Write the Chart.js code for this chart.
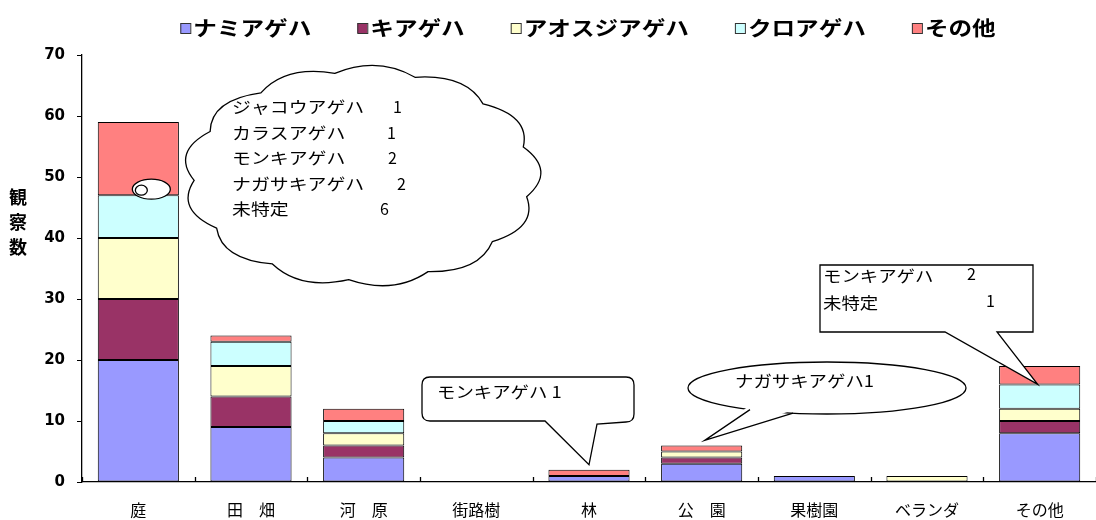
<!DOCTYPE html>
<html lang="ja">
<head>
  <meta charset="UTF-8" />
  <title>場所別 アゲハ観察数</title>
  <script src="https://cdn.jsdelivr.net/npm/chart.js"></script>
  <style>
    body {
      margin: 0;
      background-color: #ffffff;
    }
    #chart-container {
      width: 1096px;
      height: 520px;
    }
  </style>
</head>
<body>

  <div id="chart-container">
    <canvas id="swallowtailChart"></canvas>
  </div>

  <script>
    // 観察場所
    const places = ['庭', '田　畑', '河　原', '街路樹', '林', '公　園', '果樹園', 'ベランダ', 'その他'];

    // 種類ごとの観察数
    const namiageha   = [20, 9, 4, 0, 1, 3, 1, 0, 8];
    const kiageha     = [10, 5, 2, 0, 0, 1, 0, 0, 2];
    const aosujiageha = [10, 5, 2, 0, 0, 1, 0, 1, 2];
    const kuroageha   = [ 7, 4, 2, 0, 0, 0, 0, 0, 4];
    const sonota      = [12, 1, 2, 0, 1, 1, 0, 0, 3];

    const yTicks = [0, 10, 20, 30, 40, 50, 60, 70];

    // 「その他」の内訳
    const niwaNotes   = [['ジャコウアゲハ', '1'], ['カラスアゲハ', '1'], ['モンキアゲハ', '2'], ['ナガサキアゲハ', '2'], ['未特定', '6']];
    const hayashiNote = 'モンキアゲハ 1';
    const kouenNote   = 'ナガサキアゲハ1';
    const otherNotes  = [['モンキアゲハ', '2'], ['未特定', '1']];

    const JP = '"Noto Sans CJK JP", sans-serif';

    // 横に少し伸ばして文字を書く
    function stretchText(ctx, str, x, y, sx) {
      ctx.save();
      ctx.translate(x, y);
      ctx.scale(sx, 1);
      ctx.fillText(str, 0, 0);
      ctx.restore();
    }

    function cloudPath(ctx, cx, cy, rx, ry, n, bulge) {
      ctx.beginPath();
      for (let k = 0; k <= n; k++) {
        const a = (k / n) * Math.PI * 2 + 0.2;
        const px = cx + rx * Math.cos(a), py = cy + ry * Math.sin(a);
        if (k === 0) { ctx.moveTo(px, py); continue; }
        const m = a - Math.PI / n;
        const qx = cx + rx * bulge * Math.cos(m), qy = cy + ry * bulge * Math.sin(m);
        ctx.quadraticCurveTo(qx, qy, px, py);
      }
      ctx.closePath();
    }

    // 凡例・軸タイトル・吹き出し
    const notesPlugin = {
      id: 'notes',
      afterDatasetsDraw(chart) {
        const ctx = chart.ctx;
        const x = chart.scales.x, y = chart.scales.y;
        ctx.save();
        ctx.lineWidth = 1.3;
        ctx.strokeStyle = '#000';
        ctx.fillStyle = '#fff';

        // x軸の目盛り（内向き）
        ctx.beginPath();
        for (let i = 0; i <= places.length; i++) {
          const px = Math.round(x.getPixelForValue(i - 0.5)) + 0.5;
          ctx.moveTo(px, y.bottom);
          ctx.lineTo(px, y.bottom - 5);
        }
        ctx.stroke();

        // 庭：雲形の吹き出し
        const tx = x.getPixelForValue(0) + 3, ty = y.getPixelForValue(48);
        cloudPath(ctx, 362, 176, 168, 104, 13, 1.16);
        ctx.fill();
        ctx.stroke();
        ctx.beginPath();
        ctx.ellipse(tx + 10, ty, 19, 10, 0, 0, Math.PI * 2);
        ctx.fill();
        ctx.stroke();
        ctx.beginPath();
        ctx.ellipse(tx, ty + 1, 6, 5, 0, 0, Math.PI * 2);
        ctx.fill();
        ctx.stroke();

        ctx.fillStyle = '#000';
        ctx.font = '16px ' + JP;
        ctx.textBaseline = 'middle';
        const numX = [393, 387, 388, 397, 380];
        niwaNotes.forEach((n, i) => {
          const ly = 107 + i * 25.5;
          stretchText(ctx, n[0], 232, ly, 1.18);
          ctx.fillText(n[1], numX[i], ly);
        });

        // 林：角丸の吹き出し
        const hx = x.getPixelForValue(4), hy = y.getPixelForValue(sonota[4] + namiageha[4]) - 5;
        ctx.fillStyle = '#fff';
        ctx.beginPath();
        ctx.moveTo(430, 377);
        ctx.lineTo(626, 377);
        ctx.quadraticCurveTo(634, 377, 634, 385);
        ctx.lineTo(634, 414);
        ctx.quadraticCurveTo(634, 422, 626, 422);
        ctx.lineTo(597, 424);
        ctx.lineTo(hx, hy);
        ctx.lineTo(545, 421);
        ctx.lineTo(430, 421);
        ctx.quadraticCurveTo(422, 421, 422, 413);
        ctx.lineTo(422, 385);
        ctx.quadraticCurveTo(422, 377, 430, 377);
        ctx.closePath();
        ctx.fill();
        ctx.stroke();
        ctx.fillStyle = '#000';
        stretchText(ctx, hayashiNote, 437, 392, 1.15);

        // 公園：楕円の吹き出し
        const kx = x.getPixelForValue(5) + 3, ky = y.getPixelForValue(6) - 5;
        ctx.fillStyle = '#fff';
        ctx.beginPath();
        ctx.ellipse(827, 388, 139, 26, 0, 0, Math.PI * 2);
        ctx.fill();
        ctx.stroke();
        ctx.beginPath();
        ctx.moveTo(750, 405);
        ctx.lineTo(kx, ky);
        ctx.lineTo(793, 410);
        ctx.closePath();
        ctx.fill();
        ctx.beginPath();
        ctx.moveTo(750, 409.6);
        ctx.lineTo(kx, ky);
        ctx.lineTo(793, 413.2);
        ctx.stroke();
        ctx.fillStyle = '#000';
        stretchText(ctx, kouenNote, 735, 381, 1.15);

        // その他：四角の吹き出し
        const ox = x.getPixelForValue(8) - 2, oy = y.getPixelForValue(16);
        ctx.fillStyle = '#fff';
        ctx.beginPath();
        ctx.moveTo(820, 265);
        ctx.lineTo(1033, 265);
        ctx.lineTo(1033, 332);
        ctx.lineTo(997, 332);
        ctx.lineTo(ox, oy);
        ctx.lineTo(945, 332);
        ctx.lineTo(820, 332);
        ctx.closePath();
        ctx.fill();
        ctx.stroke();
        ctx.fillStyle = '#000';
        stretchText(ctx, otherNotes[0][0], 823, 276, 1.15);
        ctx.fillText(otherNotes[0][1], 967, 274);
        stretchText(ctx, otherNotes[1][0], 823, 303, 1.15);
        ctx.fillText(otherNotes[1][1], 986, 301);

        ctx.restore();
      },
      afterDraw(chart) {
        const ctx = chart.ctx;
        ctx.save();

        // 凡例
        ctx.font = 'bold 20px ' + JP;
        ctx.textBaseline = 'middle';
        const sx = 1.18, gap = 46;
        const sets = chart.data.datasets;
        const widths = sets.map(d => ctx.measureText(d.label).width * sx);
        const total = widths.reduce((s, w) => s + w + 13, 0) + gap * (sets.length - 1);
        let lx = 588 - total / 2;
        sets.forEach((d, i) => {
          ctx.fillStyle = d.backgroundColor;
          ctx.fillRect(lx, 23, 10, 10);
          ctx.strokeStyle = '#333';
          ctx.lineWidth = 1;
          ctx.strokeRect(lx + 0.5, 23.5, 10, 10);
          ctx.fillStyle = '#000';
          stretchText(ctx, d.label, lx + 13, 28, sx);
          lx += 13 + widths[i] + gap;
        });

        // 縦軸タイトル
        ctx.font = 'bold 18px ' + JP;
        ctx.textAlign = 'center';
        ['観', '察', '数'].forEach((c, i) => ctx.fillText(c, 18, 197 + i * 25));
        ctx.restore();
      }
    };

    const ctx = document.getElementById('swallowtailChart').getContext('2d');
    const swallowtailChart = new Chart(ctx, {
      type: 'bar',
      data: {
        labels: places,
        datasets: [
          { label: 'ナミアゲハ',     data: namiageha,   backgroundColor: '#9999ff' },
          { label: 'キアゲハ',       data: kiageha,     backgroundColor: '#993366' },
          { label: 'アオスジアゲハ', data: aosujiageha, backgroundColor: '#ffffcc' },
          { label: 'クロアゲハ',     data: kuroageha,   backgroundColor: '#ccffff' },
          { label: 'その他',         data: sonota,      backgroundColor: '#ff8080' }
        ].map(d => Object.assign(d, {
          borderColor: '#000',
          borderWidth: 1,
          borderSkipped: false,
          categoryPercentage: 1,
          barPercentage: 0.72
        }))
      },
      options: {
        responsive: true,
        maintainAspectRatio: false,
        animation: false,
        layout: { padding: { top: 55, right: -12, bottom: 0, left: 0 } },
        plugins: {
          legend: { display: false },
          tooltip: { enabled: false }
        },
        scales: {
          x: {
            stacked: true,
            grid: { display: false },
            border: { display: true, color: '#000', width: 1.3 },
            ticks: {
              color: '#000',
              padding: 10,
              font: { family: JP, size: 16 }
            },
            afterFit(scale) { scale.height = 38; }
          },
          y: {
            stacked: true,
            min: 0,
            max: 70,
            afterBuildTicks(scale) { scale.ticks = yTicks.map(v => ({ value: v })); },
            grid: { drawOnChartArea: false, tickLength: 5, color: '#000' },
            border: { display: true, color: '#000', width: 1.3 },
            ticks: {
              color: '#000',
              padding: 12,
              font: { family: '"DejaVu Sans", sans-serif', size: 15, weight: 'bold' }
            },
            afterFit(scale) { scale.width = 82; }
          }
        }
      },
      plugins: [notesPlugin]
    });
  </script>
</body>
</html>
